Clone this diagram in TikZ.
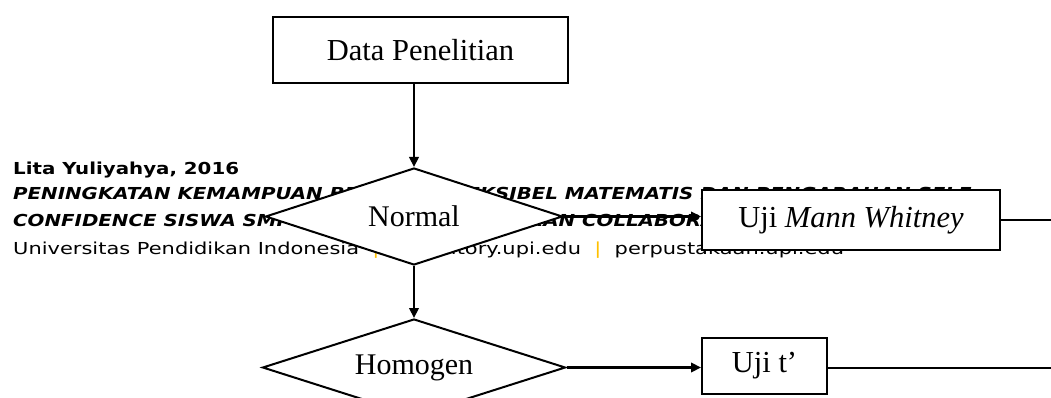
\documentclass[tikz,border=0pt]{standalone}
\usepackage{fontspec}
\setmainfont{Liberation Serif}
\newfontfamily\footfont[FakeStretch=1.27,
  BoldFeatures={FakeStretch=1.2},
  BoldItalicFeatures={FakeStretch=1.2}]{DejaVu Sans}
\usetikzlibrary{shapes.geometric,arrows.meta}
\definecolor{footbar}{RGB}{255,192,0}

\begin{document}
\begin{tikzpicture}[x=1pt,y=-1pt]
  \useasboundingbox (0,0) rectangle (1051,398);  % page size of the scan
  \tikzstyle{box}=[rectangle, draw, line width=2pt, fill=white, inner sep=0pt, font=\fontsize{30.5}{36}\selectfont]
  \tikzstyle{decision}=[diamond, aspect=3, draw, line width=2pt, fill=white, inner sep=0pt, font=\fontsize{30}{36}\selectfont]
  \tikzstyle{flow}=[line width=2.2pt, -{Triangle[length=10pt,width=9.5pt]}]
  \tikzstyle{link}=[line width=2pt]
  \tikzstyle{footer}=[anchor=base west, inner sep=0pt, font=\footfont\fontsize{16.5}{20}\selectfont]

  % Fusszeile der Seite, liegt unter dem Diagramm.
  \node[footer] (f1) at (13, 175) {\bfseries Lita Yuliyahya, 2016};
  \node[footer] (f2) at (13, 200) {\bfseries\itshape PENINGKATAN KEMAMPUAN BERPIKIR FLEKSIBEL MATEMATIS DAN PENGARAHAN SELF-};
  \node[footer] (f3) at (13, 226) {\bfseries\itshape CONFIDENCE SISWA SMP MELALUI PEMBELAJARAN COLLABORATIVE};
  \node[footer] (f4) at (13, 254) {Universitas Pendidikan Indonesia~~\textcolor{footbar}{|}~~repository.upi.edu~~\textcolor{footbar}{|}~~perpustakaan.upi.edu};

  \node[box, minimum width=295pt, minimum height=66pt] (data) at (420.5, 50)  {Data Penelitian};
  \node[decision, minimum width=297pt, minimum height=97pt] (nrm) at (414, 216.5) {Normal};
  \node[box, minimum width=298pt, minimum height=60pt] (mw) at (851, 220) {Uji \textit{Mann Whitney}};
  \node[decision, minimum width=303pt, minimum height=97pt] (hom) at (414, 367.5) {Homogen};
  \node[box, minimum width=125pt, minimum height=56pt] (ujit) at (764.5, 366) {Uji t’};

  \coordinate (mwout) at (1051, 220);
  \coordinate (utout) at (1051, 367.5);

  \draw[flow] (nrm.north |- data.south) -- (nrm.north);
  \draw[flow] (nrm.east) -- (mw.west |- nrm.east);
  \draw[flow] (nrm.south) -- (hom.north);
  \draw[flow] (hom.east) -- (ujit.west |- hom.east);
  \draw[link] (mw.east |- mwout) -- (mwout);
  \draw[link] (ujit.east |- utout) -- (utout);
\end{tikzpicture}
\end{document}
